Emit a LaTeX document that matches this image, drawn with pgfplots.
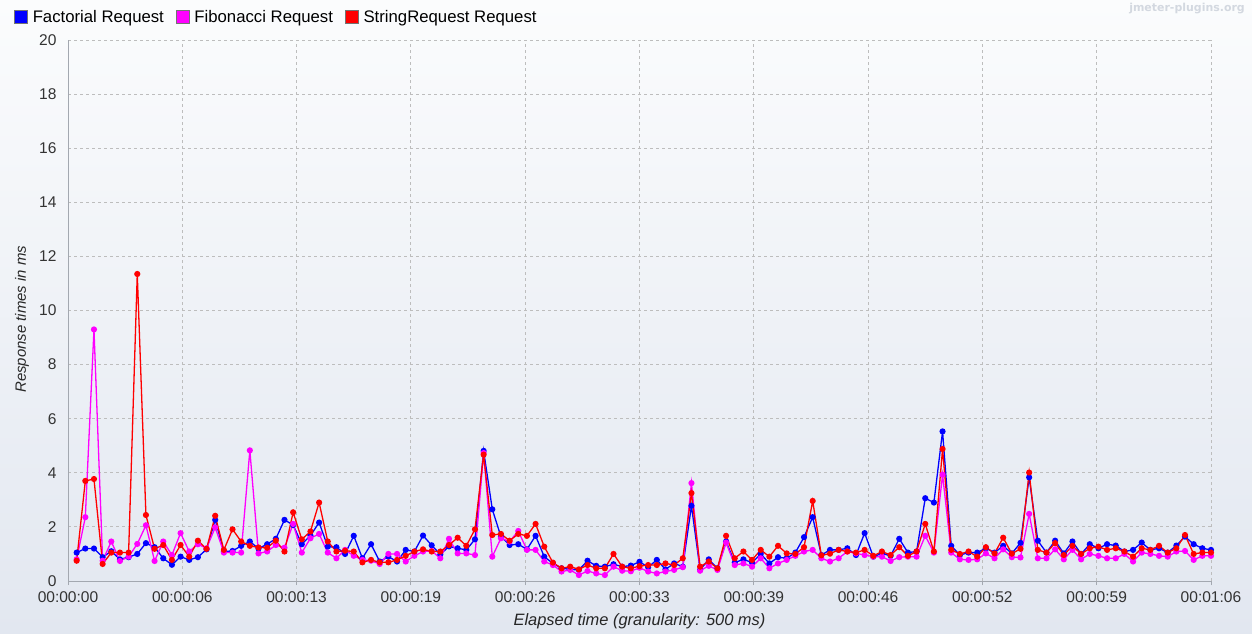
\documentclass[border=0pt]{standalone}
\usepackage{fontspec}
\setmainfont{Liberation Sans}
\newfontfamily\wmfont{DejaVu Sans}
\usepackage{pgfplots}
\usepackage{pgfplotstable}
\pgfplotsset{compat=1.18}
\definecolor{bgtop}{HTML}{FBFCFD}
\definecolor{bgbot}{HTML}{E2E7F0}
\definecolor{gridc}{HTML}{BDBDBD}
\definecolor{axc}{HTML}{A3A8B0}
\definecolor{wmc}{HTML}{D3D8E0}
\definecolor{cblue}{HTML}{0000FF}
\definecolor{cmag}{HTML}{FF00FF}
\definecolor{cred}{HTML}{FF0000}

\pgfplotstableread{
k fact fib str
1 1.05 0.80 0.75
2 1.20 2.36 3.70
3 1.20 9.30 3.77
4 0.88 0.75 0.63
5 1.10 1.46 1.05
6 0.80 0.74 1.05
7 0.88 0.90 1.05
8 1.00 1.37 11.35
9 1.40 2.06 2.44
10 1.25 0.74 1.19
11 0.84 1.46 1.33
12 0.60 0.96 0.78
13 0.90 1.77 1.33
14 0.78 1.09 0.90
15 0.88 1.36 1.49
16 1.17 1.21 1.19
17 2.26 1.98 2.41
18 1.09 1.05 1.15
19 1.11 1.05 1.91
20 1.30 1.05 1.46
21 1.46 4.83 1.30
22 1.20 1.02 1.24
23 1.36 1.09 1.23
24 1.56 1.33 1.49
25 2.26 1.23 1.09
26 2.07 2.11 2.54
27 1.36 1.05 1.54
28 1.68 1.58 1.83
29 2.16 1.74 2.90
30 1.27 1.05 1.46
31 1.25 0.84 1.09
32 1.00 1.15 1.12
33 1.67 0.93 1.09
34 0.84 0.78 0.69
35 1.36 0.75 0.78
36 0.72 0.63 0.69
37 0.90 1.00 0.69
38 0.72 1.00 0.78
39 1.15 0.72 0.93
40 1.09 0.93 1.09
41 1.68 1.09 1.17
42 1.32 1.11 1.09
43 0.98 0.84 1.09
44 1.28 1.56 1.33
45 1.21 1.02 1.60
46 1.15 1.02 1.30
47 1.54 0.96 1.91
48 4.81 4.73 4.67
49 2.65 0.90 1.70
50 1.64 1.58 1.74
51 1.33 1.46 1.49
52 1.36 1.85 1.74
53 1.17 1.15 1.67
54 1.67 1.15 2.11
55 0.90 0.72 1.27
56 0.65 0.59 0.68
57 0.47 0.35 0.47
58 0.43 0.41 0.53
59 0.41 0.22 0.43
60 0.75 0.37 0.59
61 0.56 0.28 0.47
62 0.53 0.22 0.47
63 0.62 0.53 1.00
64 0.53 0.38 0.53
65 0.57 0.36 0.47
66 0.71 0.49 0.55
67 0.51 0.35 0.59
68 0.78 0.28 0.59
69 0.43 0.35 0.65
70 0.65 0.41 0.59
71 0.53 0.51 0.84
72 2.78 3.62 3.25
73 0.41 0.38 0.53
74 0.80 0.56 0.72
75 0.47 0.41 0.47
76 1.46 1.42 1.67
77 0.68 0.59 0.84
78 0.80 0.65 1.09
79 0.68 0.53 0.78
80 1.00 0.84 1.15
81 0.65 0.47 0.90
82 0.88 0.65 1.30
83 0.84 0.78 1.02
84 1.05 0.93 1.00
85 1.62 1.09 1.25
86 2.36 1.15 2.96
87 0.96 0.84 0.95
88 1.15 0.72 1.01
89 1.15 0.84 1.15
90 1.21 1.09 1.09
91 0.96 1.02 1.05
92 1.77 0.96 1.15
93 0.90 0.90 0.93
94 1.02 0.90 1.09
95 0.93 0.74 0.96
96 1.56 0.88 1.25
97 1.05 0.90 0.93
98 1.09 0.90 1.09
99 3.06 1.67 2.11
100 2.90 1.05 1.09
101 5.53 3.93 4.88
102 1.30 1.05 1.15
103 0.96 0.80 1.00
104 1.05 0.78 1.09
105 1.05 0.80 0.90
106 1.21 1.02 1.25
107 1.05 0.84 1.02
108 1.30 1.17 1.60
109 1.02 0.88 1.01
110 1.41 0.87 1.19
111 3.83 2.48 4.01
112 1.49 0.84 1.15
113 1.05 0.84 1.05
114 1.49 1.17 1.40
115 1.02 0.80 0.96
116 1.46 1.15 1.30
117 1.00 0.80 1.00
118 1.36 1.00 1.21
119 1.21 0.93 1.27
120 1.36 0.84 1.15
121 1.31 0.84 1.21
122 1.09 1.00 1.09
123 1.15 0.72 0.90
124 1.42 1.05 1.21
125 1.15 1.00 1.15
126 1.21 0.93 1.30
127 1.05 0.90 1.05
128 1.31 1.09 1.21
129 1.64 1.11 1.70
130 1.36 0.78 1.00
131 1.21 0.93 1.05
132 1.15 0.93 1.05
}\datatable

\begin{document}
\begin{tikzpicture}
\shade[top color=bgtop, bottom color=bgbot] (0,0) rectangle (1252bp,634bp);
\useasboundingbox (0,0) rectangle (1252bp,634bp);
\node[anchor=east, text=wmc, font=\wmfont\bfseries\fontsize{11}{13}\selectfont, inner sep=0pt] at (1245bp,625bp) {jmeter-plugins.org};
\begin{axis}[
  at={(68bp,53bp)}, anchor=south west,
  scale only axis, width=1143bp, height=541bp,
  xmin=0, xmax=132, ymin=0, ymax=20,
  clip=false,
  axis x line*=bottom, axis y line*=left,
  axis line style={axc, line width=1bp},
  xtick={0,13.2,26.4,39.6,52.8,66,79.2,92.4,105.6,118.8,132},
  xticklabels={00:00:00,00:00:06,00:00:13,00:00:19,00:00:26,00:00:33,00:00:39,00:00:46,00:00:52,00:00:59,00:01:06},
  ytick={0,2,...,20},
  tick align=outside, major tick length=4bp,
  x tick style={axc, line width=0.8bp},
  y tick style={draw=none},
  grid=major,
  major grid style={gridc, line width=0.8bp, dash pattern=on 3bp off 3bp},
  /pgf/number format/assume math mode=true,
  ticklabel style={font=\fontsize{15.6}{18}\selectfont, text=black!80},
  xticklabel style={yshift=-3bp},
  yticklabel style={xshift=-4bp},
  xlabel={Elapsed time (granularity: 500 ms)},
  ylabel={Response times in ms},
  xlabel style={at={(axis description cs:0.5,-0.0745)}, anchor=center, font=\itshape\fontsize{16.5}{19}\selectfont, text=black!85},
  ylabel style={at={(axis description cs:-0.0402,0.484)}, anchor=center, rotate=0, font=\itshape\fontsize{15}{18}\selectfont, text=black!85},
  legend columns=-1,
  legend style={at={(axis description cs:-0.0472,1.0425)}, anchor=west, draw=none, fill=none, inner sep=0pt,
    font=\fontsize{16.8}{19}\selectfont,
    nodes={inner sep=0pt},
    /tikz/every odd column/.append style={column sep=5bp},
    /tikz/every even column/.append style={column sep=12bp}},
  legend image code/.code={\path[#1, fill, draw=black!55, line width=0.5bp] (0bp,-6.5bp) rectangle (13bp,6.5bp);},
  every axis plot/.append style={line width=1.3bp, mark=*, mark size=2.4bp},
]
\addplot[color=cblue, mark options={fill=cblue, draw=cblue}] table[x=k, y=fact] {\datatable};
\addlegendentry{Factorial Request}
\addplot[color=cmag, mark options={fill=cmag, draw=cmag}] table[x=k, y=fib] {\datatable};
\addlegendentry{Fibonacci Request}
\addplot[color=cred, mark options={fill=cred, draw=cred}] table[x=k, y=str] {\datatable};
\addlegendentry{StringRequest Request}
\end{axis}
\end{tikzpicture}
\end{document}
